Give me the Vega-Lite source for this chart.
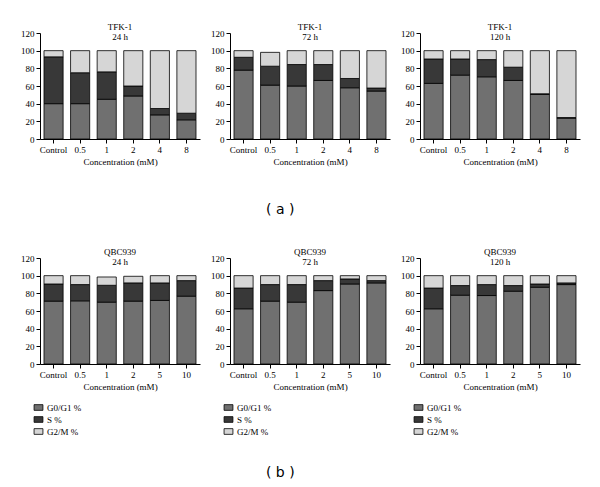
{
  "$schema": "https://vega.github.io/schema/vega-lite/v6.json",
  "padding": {"left": 20, "top": 23, "right": 5, "bottom": 2},
  "background": "white",
  "data": {"values": [
    {"panel": "a1", "conc": "Control", "G0/G1 %": 40, "S %": 53, "G2/M %": 7},
    {"panel": "a1", "conc": "0.5", "G0/G1 %": 40, "S %": 35, "G2/M %": 25},
    {"panel": "a1", "conc": "1", "G0/G1 %": 45, "S %": 31, "G2/M %": 24},
    {"panel": "a1", "conc": "2", "G0/G1 %": 48.7, "S %": 11.3, "G2/M %": 40},
    {"panel": "a1", "conc": "4", "G0/G1 %": 27.3, "S %": 7.2, "G2/M %": 65.5},
    {"panel": "a1", "conc": "8", "G0/G1 %": 21.7, "S %": 7.5, "G2/M %": 70.8},
    {"panel": "a2", "conc": "Control", "G0/G1 %": 78, "S %": 14.5, "G2/M %": 7.5},
    {"panel": "a2", "conc": "0.5", "G0/G1 %": 61, "S %": 21.4, "G2/M %": 15.7},
    {"panel": "a2", "conc": "1", "G0/G1 %": 60, "S %": 24.3, "G2/M %": 15.7},
    {"panel": "a2", "conc": "2", "G0/G1 %": 66.3, "S %": 18, "G2/M %": 15.7},
    {"panel": "a2", "conc": "4", "G0/G1 %": 58, "S %": 10.5, "G2/M %": 31.5},
    {"panel": "a2", "conc": "8", "G0/G1 %": 54.3, "S %": 3.4, "G2/M %": 42.3},
    {"panel": "a3", "conc": "Control", "G0/G1 %": 63, "S %": 27.6, "G2/M %": 9.4},
    {"panel": "a3", "conc": "0.5", "G0/G1 %": 72.3, "S %": 18.3, "G2/M %": 9.4},
    {"panel": "a3", "conc": "1", "G0/G1 %": 70.4, "S %": 19.5, "G2/M %": 10.1},
    {"panel": "a3", "conc": "2", "G0/G1 %": 66.3, "S %": 15, "G2/M %": 18.7},
    {"panel": "a3", "conc": "4", "G0/G1 %": 50.6, "S %": 0.6, "G2/M %": 48.8},
    {"panel": "a3", "conc": "8", "G0/G1 %": 23.6, "S %": 0.7, "G2/M %": 75.7},
    {"panel": "b1", "conc": "Control", "G0/G1 %": 71.2, "S %": 19.4, "G2/M %": 9.4},
    {"panel": "b1", "conc": "0.5", "G0/G1 %": 71.5, "S %": 18.4, "G2/M %": 10.1},
    {"panel": "b1", "conc": "1", "G0/G1 %": 70, "S %": 19.1, "G2/M %": 9.4},
    {"panel": "b1", "conc": "2", "G0/G1 %": 71.2, "S %": 20.6, "G2/M %": 7.5},
    {"panel": "b1", "conc": "5", "G0/G1 %": 72, "S %": 19.8, "G2/M %": 8.2},
    {"panel": "b1", "conc": "10", "G0/G1 %": 76.8, "S %": 17.6, "G2/M %": 5.6},
    {"panel": "b2", "conc": "Control", "G0/G1 %": 62.5, "S %": 23.5, "G2/M %": 14},
    {"panel": "b2", "conc": "0.5", "G0/G1 %": 71.2, "S %": 18.7, "G2/M %": 10.1},
    {"panel": "b2", "conc": "1", "G0/G1 %": 70, "S %": 19.9, "G2/M %": 10.1},
    {"panel": "b2", "conc": "2", "G0/G1 %": 83.1, "S %": 11.3, "G2/M %": 5.6},
    {"panel": "b2", "conc": "5", "G0/G1 %": 90.6, "S %": 5.7, "G2/M %": 3.7},
    {"panel": "b2", "conc": "10", "G0/G1 %": 91.8, "S %": 2.6, "G2/M %": 5.6},
    {"panel": "b3", "conc": "Control", "G0/G1 %": 62.5, "S %": 23.5, "G2/M %": 14},
    {"panel": "b3", "conc": "0.5", "G0/G1 %": 77.9, "S %": 10.9, "G2/M %": 11.2},
    {"panel": "b3", "conc": "1", "G0/G1 %": 77.5, "S %": 12.4, "G2/M %": 10.1},
    {"panel": "b3", "conc": "2", "G0/G1 %": 82.4, "S %": 6.4, "G2/M %": 11.2},
    {"panel": "b3", "conc": "5", "G0/G1 %": 86.9, "S %": 3.7, "G2/M %": 9.4},
    {"panel": "b3", "conc": "10", "G0/G1 %": 89.9, "S %": 1.9, "G2/M %": 8.2}
  ]},
  "resolve": {"scale": {"color": "independent"}, "legend": {"color": "independent"}},
  "spacing": 31,
  "vconcat": [
    {
      "title": {"text": "( a )", "orient": "bottom", "anchor": "middle", "font": "DejaVu Sans", "fontSize": 14, "dx": -20, "offset": 37},
      "spacing": 30,
      "bounds": "flush",
      "hconcat": [
        {
          "width": 160, "height": 106,
          "title": {"text": ["TFK-1", "24 h"], "offset": -13},
          "transform": [{"filter": "datum.panel === 'a1'"}, {"fold": ["G0/G1 %", "S %", "G2/M %"], "as": ["phase", "value"]}, {"calculate": "indexof(['G0/G1 %', 'S %', 'G2/M %'], datum.phase)", "as": "phaseOrder"}],
          "mark": {"type": "bar"},
          "encoding": {
            "x": {"field": "conc", "type": "nominal", "sort": null, "scale": {"paddingInner": 0.28, "paddingOuter": 0.15}, "axis": {"labelAngle": 0, "title": "Concentration (mM)"}},
            "y": {"field": "value", "type": "quantitative", "scale": {"domain": [0, 120]}, "axis": {"values": [0, 20, 40, 60, 80, 100, 120], "title": null}},
            "order": {"field": "phaseOrder", "type": "quantitative"},
            "color": {"field": "phase", "type": "nominal", "sort": ["G0/G1 %", "S %", "G2/M %"], "scale": {"domain": ["G0/G1 %", "S %", "G2/M %"], "range": ["#707070", "#383838", "#d6d6d6"]}, "legend": null}
          }
        },
        {
          "width": 160, "height": 106,
          "title": {"text": ["TFK-1", "72 h"], "offset": -13},
          "transform": [{"filter": "datum.panel === 'a2'"}, {"fold": ["G0/G1 %", "S %", "G2/M %"], "as": ["phase", "value"]}, {"calculate": "indexof(['G0/G1 %', 'S %', 'G2/M %'], datum.phase)", "as": "phaseOrder"}],
          "mark": {"type": "bar"},
          "encoding": {
            "x": {"field": "conc", "type": "nominal", "sort": null, "scale": {"paddingInner": 0.28, "paddingOuter": 0.15}, "axis": {"labelAngle": 0, "title": "Concentration (mM)"}},
            "y": {"field": "value", "type": "quantitative", "scale": {"domain": [0, 120]}, "axis": {"values": [0, 20, 40, 60, 80, 100, 120], "title": null}},
            "order": {"field": "phaseOrder", "type": "quantitative"},
            "color": {"field": "phase", "type": "nominal", "sort": ["G0/G1 %", "S %", "G2/M %"], "scale": {"domain": ["G0/G1 %", "S %", "G2/M %"], "range": ["#707070", "#383838", "#d6d6d6"]}, "legend": null}
          }
        },
        {
          "width": 160, "height": 106,
          "title": {"text": ["TFK-1", "120 h"], "offset": -13},
          "transform": [{"filter": "datum.panel === 'a3'"}, {"fold": ["G0/G1 %", "S %", "G2/M %"], "as": ["phase", "value"]}, {"calculate": "indexof(['G0/G1 %', 'S %', 'G2/M %'], datum.phase)", "as": "phaseOrder"}],
          "mark": {"type": "bar"},
          "encoding": {
            "x": {"field": "conc", "type": "nominal", "sort": null, "scale": {"paddingInner": 0.28, "paddingOuter": 0.15}, "axis": {"labelAngle": 0, "title": "Concentration (mM)"}},
            "y": {"field": "value", "type": "quantitative", "scale": {"domain": [0, 120]}, "axis": {"values": [0, 20, 40, 60, 80, 100, 120], "title": null}},
            "order": {"field": "phaseOrder", "type": "quantitative"},
            "color": {"field": "phase", "type": "nominal", "sort": ["G0/G1 %", "S %", "G2/M %"], "scale": {"domain": ["G0/G1 %", "S %", "G2/M %"], "range": ["#707070", "#383838", "#d6d6d6"]}, "legend": null}
          }
        }
      ]
    },
    {
      "title": {"text": "( b )", "orient": "bottom", "anchor": "middle", "font": "DejaVu Sans", "fontSize": 14, "dx": -20, "offset": 29},
      "spacing": 30,
      "bounds": "flush",
      "resolve": {"scale": {"color": "independent"}, "legend": {"color": "independent"}},
      "hconcat": [
        {
          "width": 160, "height": 106,
          "title": {"text": ["QBC939", "24 h"], "offset": -13},
          "transform": [{"filter": "datum.panel === 'b1'"}, {"fold": ["G0/G1 %", "S %", "G2/M %"], "as": ["phase", "value"]}, {"calculate": "indexof(['G0/G1 %', 'S %', 'G2/M %'], datum.phase)", "as": "phaseOrder"}],
          "mark": {"type": "bar"},
          "encoding": {
            "x": {"field": "conc", "type": "nominal", "sort": null, "scale": {"paddingInner": 0.28, "paddingOuter": 0.15}, "axis": {"labelAngle": 0, "title": "Concentration (mM)"}},
            "y": {"field": "value", "type": "quantitative", "scale": {"domain": [0, 120]}, "axis": {"values": [0, 20, 40, 60, 80, 100, 120], "title": null}},
            "order": {"field": "phaseOrder", "type": "quantitative"},
            "color": {"field": "phase", "type": "nominal", "sort": ["G0/G1 %", "S %", "G2/M %"], "scale": {"domain": ["G0/G1 %", "S %", "G2/M %"], "range": ["#707070", "#383838", "#d6d6d6"]}, "legend": {"orient": "none", "legendX": -6, "legendY": 145, "title": null}}
          }
        },
        {
          "width": 160, "height": 106,
          "title": {"text": ["QBC939", "72 h"], "offset": -13},
          "transform": [{"filter": "datum.panel === 'b2'"}, {"fold": ["G0/G1 %", "S %", "G2/M %"], "as": ["phase", "value"]}, {"calculate": "indexof(['G0/G1 %', 'S %', 'G2/M %'], datum.phase)", "as": "phaseOrder"}],
          "mark": {"type": "bar"},
          "encoding": {
            "x": {"field": "conc", "type": "nominal", "sort": null, "scale": {"paddingInner": 0.28, "paddingOuter": 0.15}, "axis": {"labelAngle": 0, "title": "Concentration (mM)"}},
            "y": {"field": "value", "type": "quantitative", "scale": {"domain": [0, 120]}, "axis": {"values": [0, 20, 40, 60, 80, 100, 120], "title": null}},
            "order": {"field": "phaseOrder", "type": "quantitative"},
            "color": {"field": "phase", "type": "nominal", "sort": ["G0/G1 %", "S %", "G2/M %"], "scale": {"domain": ["G0/G1 %", "S %", "G2/M %"], "range": ["#707070", "#383838", "#d6d6d6"]}, "legend": {"orient": "none", "legendX": -6, "legendY": 145, "title": null}}
          }
        },
        {
          "width": 160, "height": 106,
          "title": {"text": ["QBC939", "120 h"], "offset": -13},
          "transform": [{"filter": "datum.panel === 'b3'"}, {"fold": ["G0/G1 %", "S %", "G2/M %"], "as": ["phase", "value"]}, {"calculate": "indexof(['G0/G1 %', 'S %', 'G2/M %'], datum.phase)", "as": "phaseOrder"}],
          "mark": {"type": "bar"},
          "encoding": {
            "x": {"field": "conc", "type": "nominal", "sort": null, "scale": {"paddingInner": 0.28, "paddingOuter": 0.15}, "axis": {"labelAngle": 0, "title": "Concentration (mM)"}},
            "y": {"field": "value", "type": "quantitative", "scale": {"domain": [0, 120]}, "axis": {"values": [0, 20, 40, 60, 80, 100, 120], "title": null}},
            "order": {"field": "phaseOrder", "type": "quantitative"},
            "color": {"field": "phase", "type": "nominal", "sort": ["G0/G1 %", "S %", "G2/M %"], "scale": {"domain": ["G0/G1 %", "S %", "G2/M %"], "range": ["#707070", "#383838", "#d6d6d6"]}, "legend": {"orient": "none", "legendX": -6, "legendY": 145, "title": null}}
          }
        }
      ]
    }
  ],
  "config": {
    "view": {"stroke": null},
    "font": "Liberation Serif",
    "axis": {"domainColor": "#000", "tickColor": "#000", "labelColor": "#000", "labelFontSize": 9, "titleFontSize": 9, "titleFontWeight": "normal", "titleColor": "#000", "grid": false, "tickSize": 4, "labelPadding": 2, "titlePadding": 3, "labelFont": "Liberation Serif", "titleFont": "Liberation Serif", "domainWidth": 1},
    "title": {"font": "Liberation Serif", "fontSize": 9, "fontWeight": "normal", "color": "#000", "lineHeight": 10},
    "legend": {"labelFont": "Liberation Serif", "labelFontSize": 9, "labelColor": "#000", "symbolType": "M-1.4,-0.9H1.4V0.9H-1.4Z", "symbolSize": 40, "symbolStrokeColor": "#000", "symbolStrokeWidth": 0.6, "rowPadding": 2, "labelOffset": 4},
    "bar": {"stroke": "#000", "strokeWidth": 0.8}
  }
}
